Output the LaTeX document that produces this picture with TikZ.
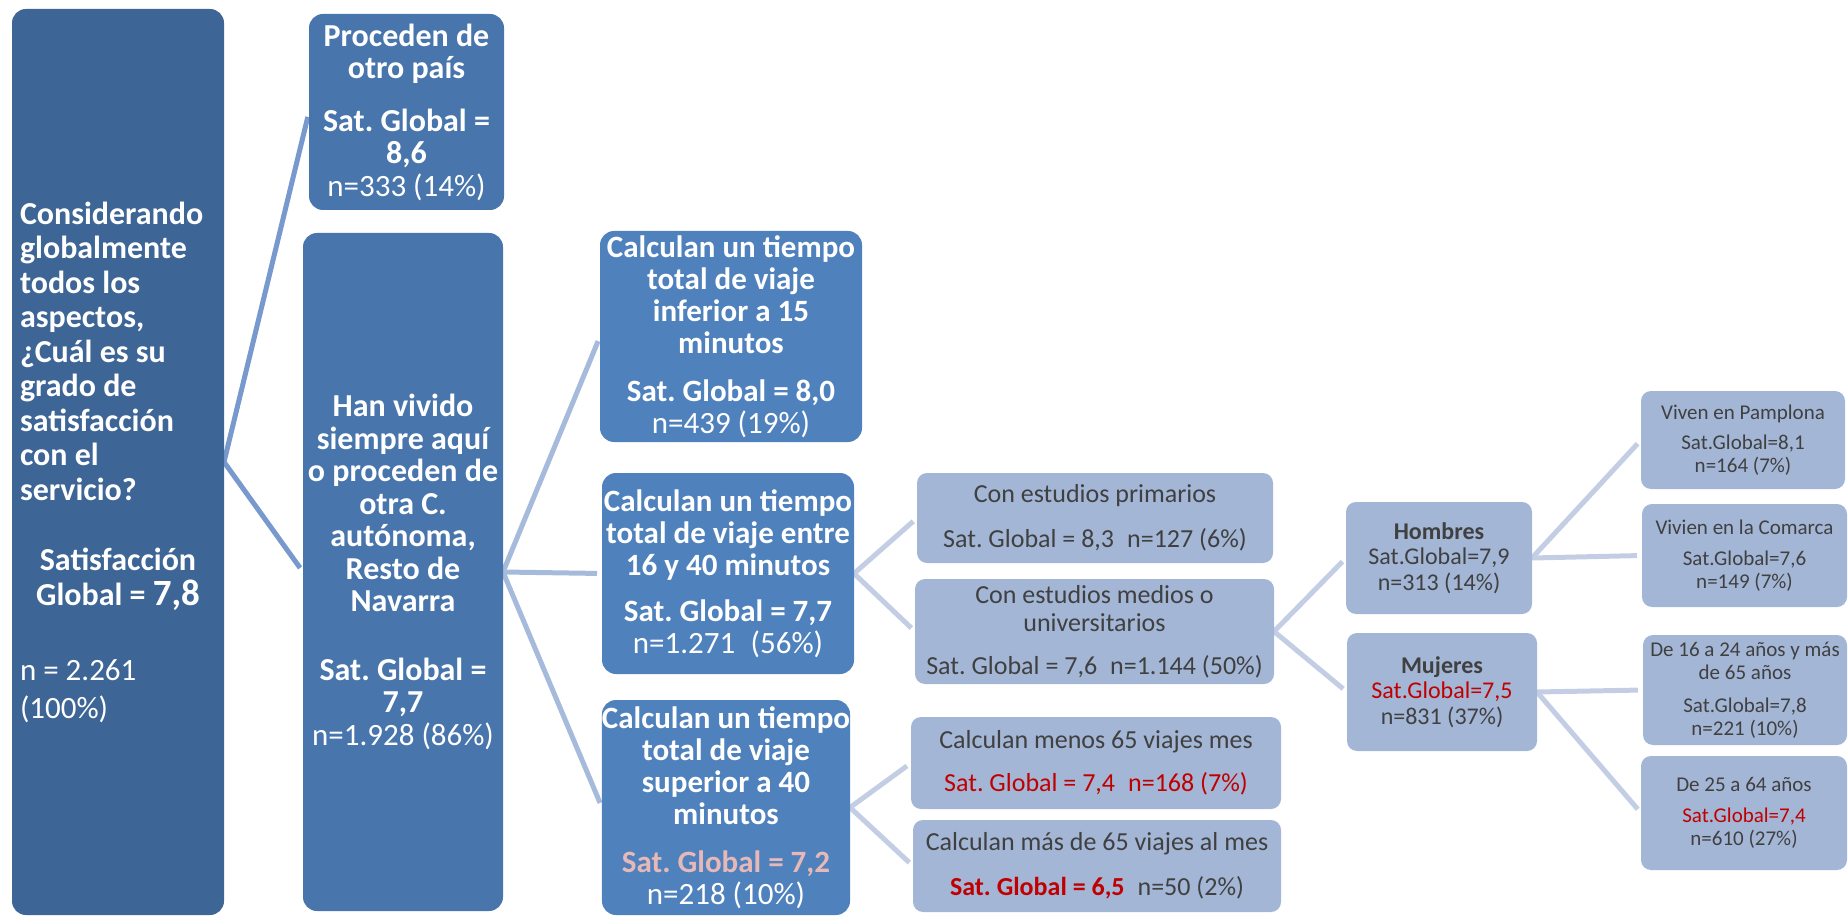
\documentclass[tikz,border=0pt]{standalone}
\usepackage{fontspec}
\setmainfont{Carlito}
\usetikzlibrary{backgrounds}
\definecolor{cRoot}{HTML}{3D6596}
\definecolor{cOne}{HTML}{4775AC}
\definecolor{cTwo}{HTML}{4F81BD}
\definecolor{cLight}{HTML}{A3B6D6}
\definecolor{cText}{HTML}{404040}
\definecolor{cRed}{HTML}{C00000}
\definecolor{cPink}{HTML}{E6B9B8}
\definecolor{cLineA}{HTML}{7899CD}
\definecolor{cLineB}{HTML}{A6BADC}
\definecolor{cLineC}{HTML}{C3CEE4}
\newcommand\fB{\fontsize{32}{32.5}\selectfont\bfseries}
\newcommand\fBt{\fontsize{31}{32}\selectfont\bfseries}
\newcommand\fR{\fontsize{31}{32.5}\selectfont\mdseries}
\begin{document}
\frenchspacing
\begin{tikzpicture}[x=1pt,y=-1pt,
  box/.style={rounded corners=14pt, inner sep=0pt, outer sep=0pt, align=center, anchor=center},
  rootbox/.style={box, fill=cRoot, text=white},
  onebox/.style={box, fill=cOne, text=white, font=\fB},
  twobox/.style={box, fill=cTwo, text=white, font=\fBt},
  lightbox/.style={box, fill=cLight, text=cText, rounded corners=10pt},
  thrbox/.style={lightbox, font=\fontsize{26}{28}\selectfont},
  fourbox/.style={lightbox, font=\fontsize{24}{25.5}\selectfont},
  fivebox/.style={lightbox, font=\fontsize{21}{23}\selectfont},
  con/.style={line width=5pt, shorten >=5pt},
]
\useasboundingbox (0,0) rectangle (1848,917);

% root
\node[rootbox, minimum width=212pt, minimum height=906pt, text width=196pt, align=flush left,
  font=\fontsize{32}{34.5}\selectfont\bfseries\frenchspacing] (root) at (118,462)
{Considerando\\ globalmente\\ todos los\\ aspectos,\\ ¿Cuál es su\\ grado de\\ satisfacción\\ con el\\ servicio?\par
\vspace{36pt}
{\centering Satisfacción\\ Global = {\fontsize{37}{37}\selectfont 7,8}\par}
\vspace{37pt}
{\fontsize{31}{38}\selectfont\mdseries n = 2.261\\ (100\%)\par}};

% level 1
\node[onebox, minimum width=195pt, minimum height=196pt] (p1) at (406.5,112)
{Proceden de\\ otro país\\[20pt] Sat. Global =\\ 8,6\\ {\fR n=333 (14\%)}};
\node[onebox, minimum width=200pt, minimum height=678pt] (p2) at (403,572)
{Han vivido\\ siempre aquí\\ o proceden de\\ otra C.\\ autónoma,\\ Resto de\\ Navarra\\[36pt] Sat. Global =\\ 7,7\\ {\fR n=1.928 (86\%)}};

% level 2
\node[twobox, minimum width=262pt, minimum height=211pt] (t1) at (731,336.5)
{Calculan un tiempo\\ total de viaje\\ inferior a 15\\ minutos\\[16pt] Sat. Global = 8,0\\ {\fR n=439 (19\%)}};
\node[twobox, minimum width=252pt, minimum height=201pt] (t2) at (728,573.5)
{Calculan un tiempo\\ total de viaje entre\\ 16 y 40 minutos\\[14pt] Sat. Global = 7,7\\ {\fR n=1.271\enspace(56\%)}};
\node[twobox, minimum width=246pt, minimum height=215pt] (t3) at (726,807.5)
{Calculan un tiempo\\ total de viaje\\ superior a 40\\ minutos\\[16pt] {\color{cPink}Sat. Global = 7,2}\\ {\fR n=218 (10\%)}};

% level 3
\node[thrbox, minimum width=356pt, minimum height=90pt] (e1) at (1095,518)
{Con estudios primarios\\[17pt] Sat. Global = 8,3\enspace n=127 (6\%)};
\node[thrbox, minimum width=359pt, minimum height=105pt] (e2) at (1094.5,631.5)
{Con estudios medios o\\ universitarios\\[15pt] Sat. Global = 7,6\enspace n=1.144 (50\%)};
\node[thrbox, minimum width=370pt, minimum height=92pt] (v1) at (1096,763)
{Calculan menos 65 viajes mes\\[15pt] {\color{cRed}Sat. Global = 7,4\enspace n=168 (7\%)}};
\node[thrbox, minimum width=368pt, minimum height=92pt] (v2) at (1097,866)
{Calculan más de 65 viajes al mes\\[17pt] {\color{cRed}\bfseries Sat. Global = 6,5}\enspace n=50 (2\%)};

% level 4
\node[fourbox, minimum width=186pt, minimum height=112pt] (h) at (1439,558)
{{\bfseries Hombres}\\ Sat.Global=7,9\\ n=313 (14\%)};
\node[fourbox, minimum width=190pt, minimum height=118pt] (m) at (1442,692)
{{\bfseries Mujeres}\\ {\color{cRed}Sat.Global=7,5}\\ n=831 (37\%)};

% level 5
\node[fivebox, minimum width=204pt, minimum height=98pt] (h1) at (1743,440)
{Viven en Pamplona\\[7pt] Sat.Global=8,1\\ n=164 (7\%)};
\node[fivebox, minimum width=205pt, minimum height=103pt] (h2) at (1744.5,555.5)
{Vivien en la Comarca\\[8pt] Sat.Global=7,6\\ n=149 (7\%)};
\node[fivebox, minimum width=204pt, minimum height=110pt] (m1) at (1745,690)
{De 16 a 24 años y más\\ de 65 años\\[10pt] Sat.Global=7,8\\ n=221 (10\%)};
\node[fivebox, minimum width=206pt, minimum height=114pt] (m2) at (1744,813)
{De 25 a 64 años\\[8pt] {\color{cRed}Sat.Global=7,4}\\ n=610 (27\%)};

\begin{scope}[on background layer]
\draw[con, cLineA] (root.east) -- (p1.west);
\draw[con, cLineA] (root.east) -- (p2.west);
\draw[con, cLineB] (p2.east) -- (t1.west);
\draw[con, cLineB] (p2.east) -- (t2.west);
\draw[con, cLineB] (p2.east) -- (t3.west);
\draw[con, cLineC] (t2.east) -- (e1.west);
\draw[con, cLineC] (t2.east) -- (e2.west);
\draw[con, cLineC] (t3.east) -- (v1.west);
\draw[con, cLineC] (t3.east) -- (v2.west);
\draw[con, cLineC] (e2.east) -- (h.west);
\draw[con, cLineC] (e2.east) -- (m.west);
\draw[con, cLineC] (h.east) -- (h1.west);
\draw[con, cLineC] (h.east) -- (h2.west);
\draw[con, cLineC] (m.east) -- (m1.west);
\draw[con, cLineC] (m.east) -- (m2.west);
\end{scope}
\end{tikzpicture}
\end{document}
